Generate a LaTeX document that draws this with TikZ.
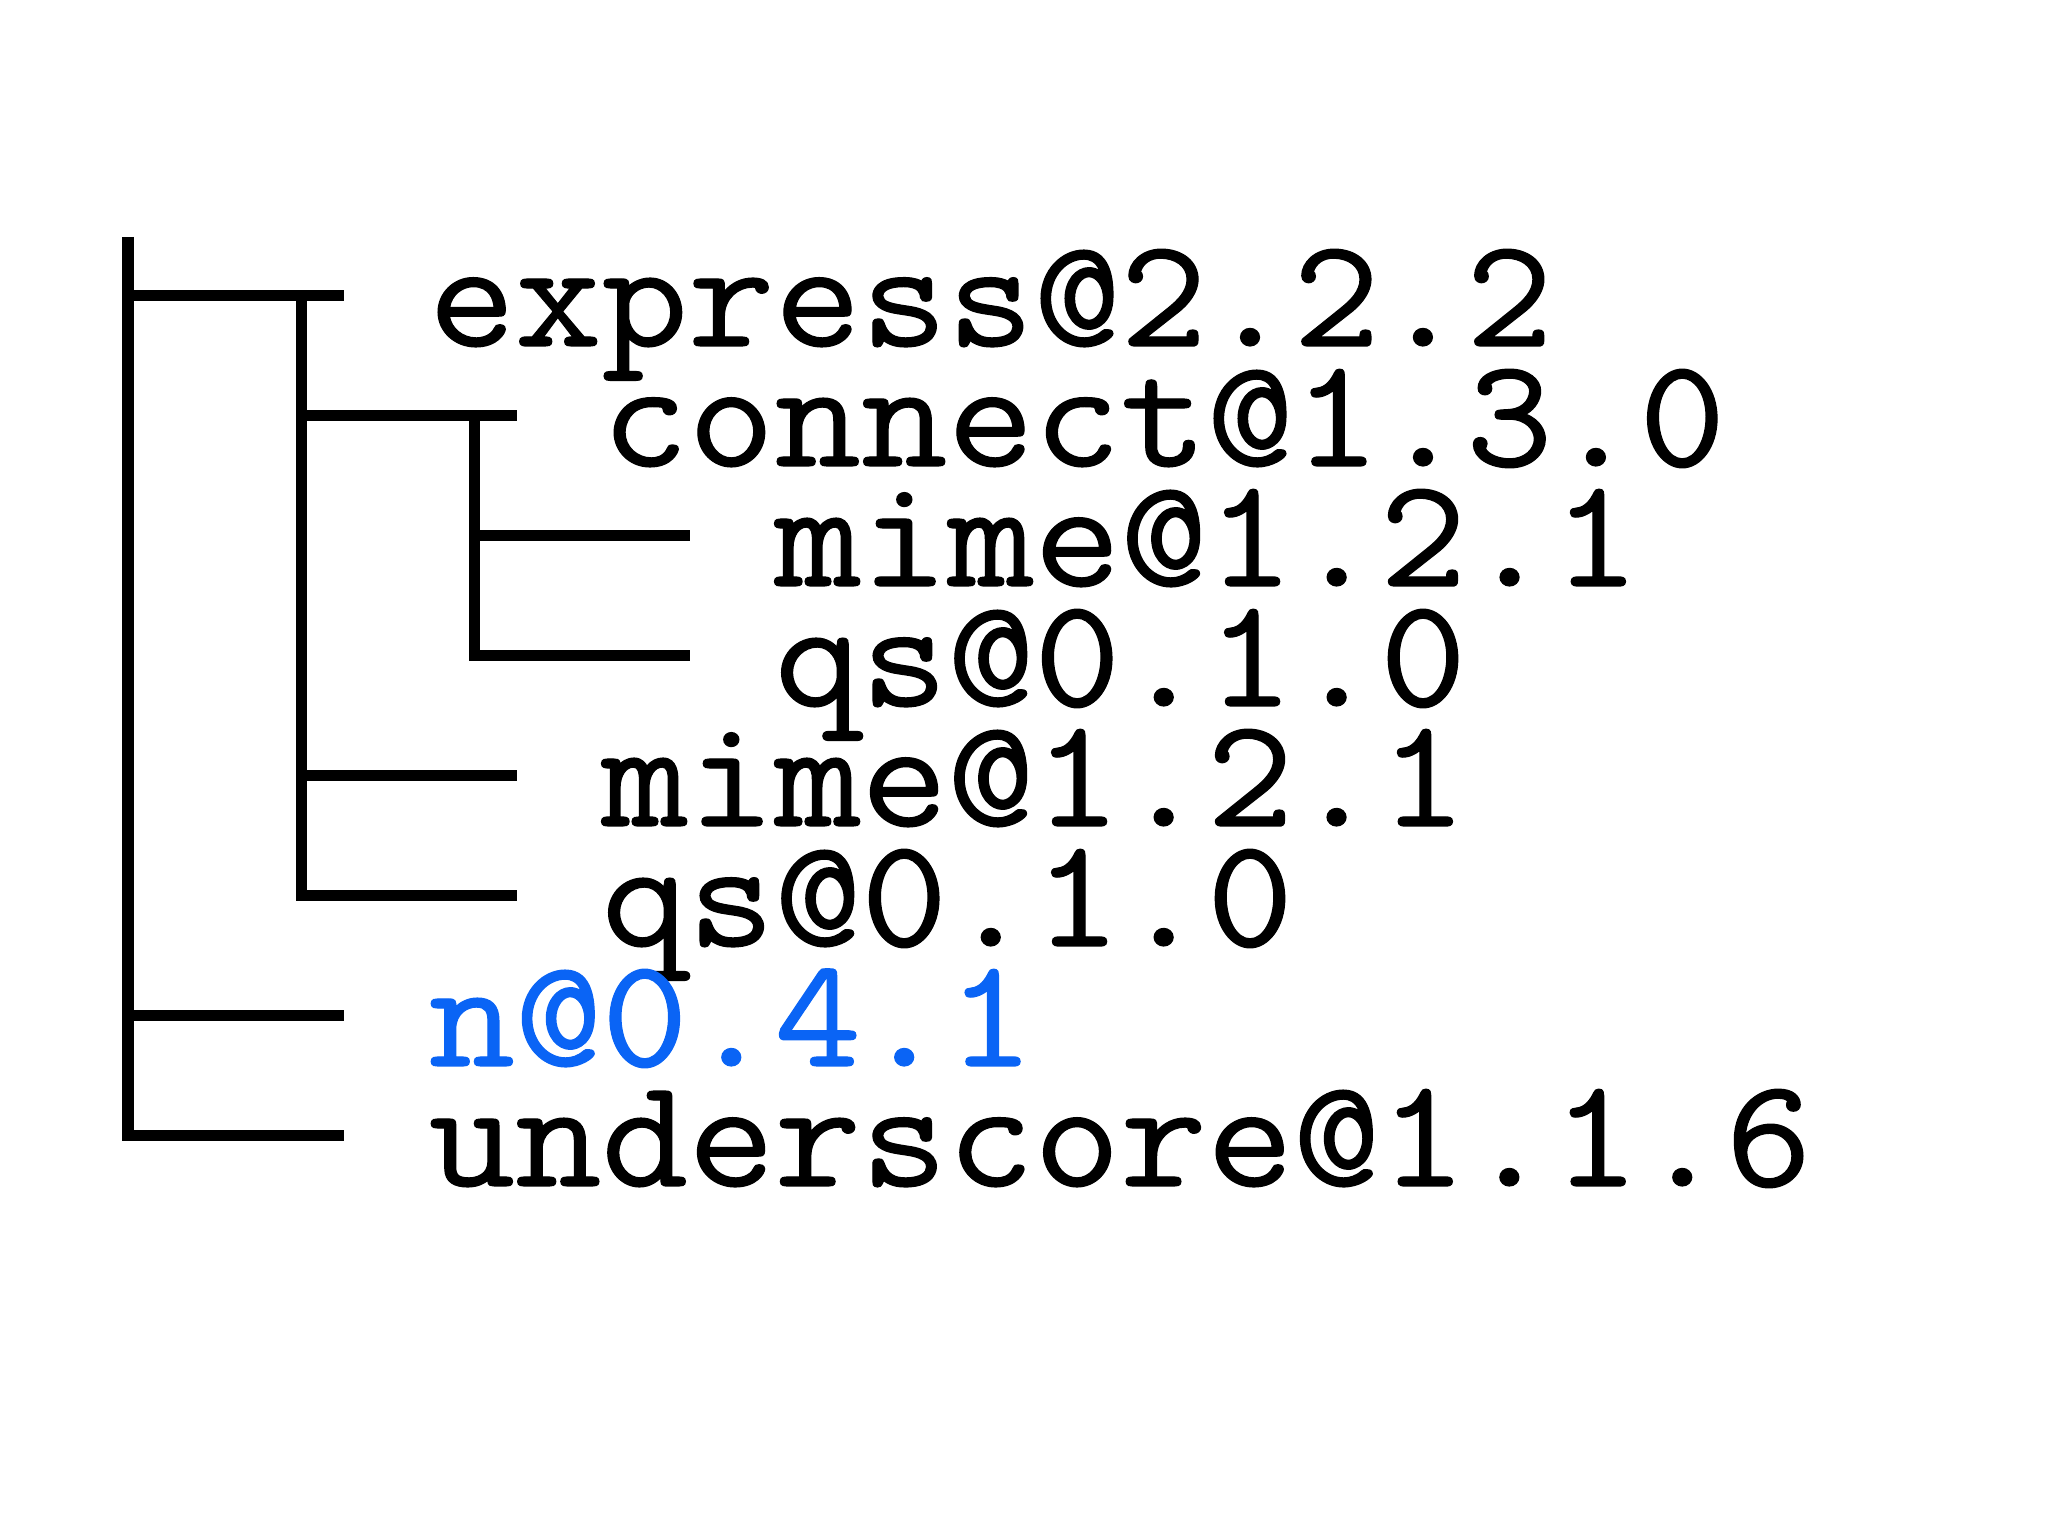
\documentclass[tikz,border=0pt]{standalone}
\usepackage{fontspec}
\usepackage{tikz}
\newfontfamily\pkgfont[FakeBold=0.8, FakeStretch=1.08]{Latin Modern Mono}
\definecolor{deduped}{RGB}{10,100,245}
\tikzset{
    pkg/.style={inner sep=0pt, anchor=base west, font=\pkgfont\fontsize{44.2}{56}\selectfont},
    tree/.style={line width=3.13pt, line join=miter},
}

\begin{document}
\begin{tikzpicture}[x=0.01cm, y=0.01cm]
        \useasboundingbox (0,0) rectangle (2048,1536);
        \coordinate (v0) at (128,1299);
        \coordinate (v1) at (301.5,1240.5);
        \coordinate (v2) at (474,1120.5);

        \coordinate (express-b) at (344,1240.5);
        \coordinate (connect-b) at (517,1120.5);
        \coordinate (mime-inner-b) at (690,1000.5);
        \coordinate (qs-inner-b) at (690,880.5);
        \coordinate (mime-b) at (517,760.5);
        \coordinate (qs-b) at (517,640.5);
        \coordinate (n-b) at (344,520.5);
        \coordinate (underscore-b) at (344,400.5);

        \node[pkg] (express) at ([shift={(84,-50.5)}]express-b) {express@2.2.2};
        \node[pkg] (connect) at ([shift={(84,-50.5)}]connect-b) {connect@1.3.0};
        \node[pkg] (mime-inner) at ([shift={(84,-50.5)}]mime-inner-b) {mime@1.2.1};
        \node[pkg] (qs-inner) at ([shift={(84,-50.5)}]qs-inner-b) {qs@0.1.0};
        \node[pkg] (mime) at ([shift={(84,-50.5)}]mime-b) {mime@1.2.1};
        \node[pkg] (qs) at ([shift={(84,-50.5)}]qs-b) {qs@0.1.0};
        \node[pkg, text=deduped] (n) at ([shift={(84,-50.5)}]n-b) {n@0.4.1};
        \node[pkg] (underscore) at ([shift={(84,-50.5)}]underscore-b) {underscore@1.1.6};

        \draw[tree] (v0) |- (underscore-b);
        \draw[tree] (v0 |- express-b) -- (express-b);
        \draw[tree] (v0 |- n-b) -- (n-b);
        \draw[tree] (v1) |- (qs-b);
        \draw[tree] (v1 |- connect-b) -- (connect-b);
        \draw[tree] (v1 |- mime-b) -- (mime-b);
        \draw[tree] (v2) |- (qs-inner-b);
        \draw[tree] (v2 |- mime-inner-b) -- (mime-inner-b);
\end{tikzpicture}
\end{document}
